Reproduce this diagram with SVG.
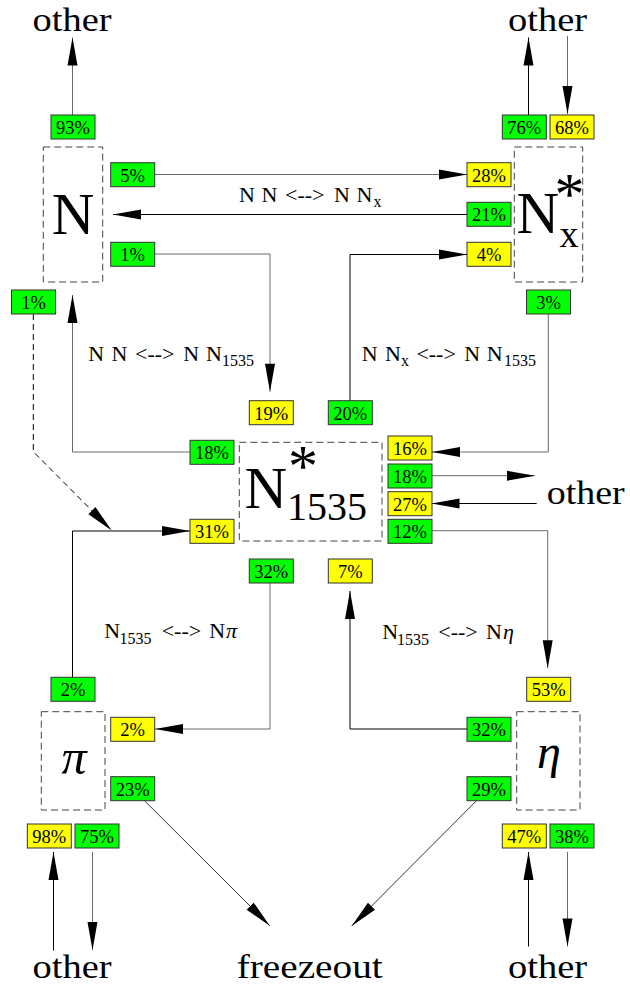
<svg xmlns="http://www.w3.org/2000/svg" width="630" height="988" viewBox="0 0 630 988" font-family="'Liberation Serif','Times New Roman',serif">
<defs>
<style>
text{font-family:"Liberation Serif","Times New Roman",serif;fill:#000}
.g{fill:#00ff00;stroke:#333;stroke-width:1}
.y{fill:#ffff00;stroke:#333;stroke-width:1}
.pt{font-size:18.5px;text-anchor:middle}
.db{fill:none;stroke:#444;stroke-width:1;stroke-dasharray:7,4}
.big{font-size:34px}
.lbl{font-size:22px}
.sub{font-size:16px}
.c{fill:none;stroke:#000;stroke-width:1;marker-end:url(#ah)}
.gr{stroke:#6a6a6a}
.dk{stroke:#333}
.da{stroke-dasharray:6,4}
</style>
<marker id="ah" markerUnits="userSpaceOnUse" markerWidth="28" markerHeight="10" refX="28" refY="5" orient="auto" overflow="visible">
<path d="M0,0 L28,5 L0,10 z" fill="#000" stroke="none"/>
</marker>
</defs>
<rect width="630" height="988" fill="#fff"/>

<g id="connectors">
<path class="c gr" d="M72.5,115 V37.5"/>
<path class="c" d="M528.5,115 V37.5"/>
<path class="c gr" d="M567.5,36 V114"/>
<path class="c" d="M53.5,950.5 V852"/>
<path class="c gr" d="M92.5,852 V950"/>
<path class="c" d="M528.5,946.5 V852"/>
<path class="c gr" d="M567.5,852 V946.5"/>
<path class="c gr" d="M154.7,174.5 H467"/>
<path class="c" d="M467,214.5 H113"/>
<path class="c gr" d="M154.7,254 H270 V391.7"/>
<path class="c" d="M350,400.7 V254.5 H467"/>
<path class="c gr" d="M548.3,314 V452 H432"/>
<path class="c gr" d="M190,452 H72.5 V295"/>
<path class="c da" d="M33.3,314 V451.7 L111.7,530.5"/>
<path class="c" d="M72.5,677.3 V531 H190"/>
<path class="c gr" d="M270,583 V729 H155"/>
<path class="c gr" d="M431.5,475.7 H535"/>
<path class="c" d="M536.7,503.5 H431.5"/>
<path class="c gr" d="M431.5,530.7 H547.7 V668.3"/>
<path class="c" d="M467,729 H350 V591"/>
<path class="c dk" d="M144.3,800.5 L270,926"/>
<path class="c dk" d="M476.7,800.5 L351.7,926"/>
</g>

<g id="labels">
<text class="lbl" y="201.7"><tspan x="239">N</tspan><tspan x="261.5">N</tspan><tspan x="285">&lt;--&gt;</tspan><tspan x="334">N</tspan><tspan x="356.5">N</tspan><tspan class="sub" x="373.5" y="206.5">x</tspan></text>
<text class="lbl" y="360.7"><tspan x="88.3">N</tspan><tspan x="111.5">N</tspan><tspan x="135">&lt;--&gt;</tspan><tspan x="183.3">N</tspan><tspan x="206">N</tspan><tspan class="sub" x="222" y="366">1535</tspan></text>
<text class="lbl" y="360.7"><tspan x="361.7">N</tspan><tspan x="384.9">N</tspan><tspan class="sub" x="401" y="366">x</tspan><tspan x="416.4" y="360.7">&lt;--&gt;</tspan><tspan x="464.3">N</tspan><tspan x="486.7">N</tspan><tspan class="sub" x="504" y="366">1535</tspan></text>
<text class="lbl" y="638.3"><tspan x="104.3">N</tspan><tspan class="sub" x="119.5" y="643.6">1535</tspan><tspan x="161.7" y="638.3">&lt;--&gt;</tspan><tspan x="209.3">N</tspan><tspan x="226" font-style="italic">π</tspan></text>
<text class="lbl" y="639.3"><tspan x="382.3">N</tspan><tspan class="sub" x="397" y="644.6">1535</tspan><tspan x="438.3" y="639.3">&lt;--&gt;</tspan><tspan x="486">N</tspan><tspan x="503" font-style="italic">η</tspan></text>
</g>

<g id="node-N">
<rect class="db" x="43.3" y="147" width="59.4" height="135"/>
<text x="73" y="234" font-size="59" text-anchor="middle">N</text>
<rect class="g" x="51" y="115" width="44" height="24"/><text class="pt" x="73" y="134">93%</text>
<rect class="g" x="110.7" y="162.7" width="44" height="24"/><text class="pt" x="132.7" y="181.7">5%</text>
<rect class="g" x="110.7" y="242.3" width="44" height="24"/><text class="pt" x="132.7" y="261.3">1%</text>
<rect class="g" x="11.5" y="290" width="44" height="24"/><text class="pt" x="33.5" y="309">1%</text>
</g>

<g id="node-Nx">
<rect class="db" x="514.3" y="147" width="68.4" height="135"/>
<text x="516.5" y="233" font-size="59">N<tspan x="559.5" y="246.7" font-size="38">x</tspan><tspan x="569.5" y="213.5" font-size="60" text-anchor="middle">*</tspan></text>
<rect class="g" x="502.3" y="115" width="44" height="24"/><text class="pt" x="524.3" y="134">76%</text>
<rect class="y" x="550" y="115" width="44" height="24"/><text class="pt" x="572" y="134">68%</text>
<rect class="y" x="467" y="162.7" width="44" height="24"/><text class="pt" x="489" y="181.7">28%</text>
<rect class="g" x="467" y="202.3" width="44" height="24"/><text class="pt" x="489" y="221.3">21%</text>
<rect class="y" x="467" y="242.3" width="44" height="24"/><text class="pt" x="489" y="261.3">4%</text>
<rect class="g" x="526.5" y="290" width="44" height="24"/><text class="pt" x="548.5" y="309">3%</text>
</g>

<g id="node-N1535">
<rect class="db" x="239.3" y="442.3" width="142.7" height="98.7"/>
<text x="244.5" y="508.3" font-size="59">N<tspan x="287" y="520" font-size="40">1535</tspan><tspan x="303" y="486.2" font-size="60" text-anchor="middle">*</tspan></text>
<rect class="y" x="249.3" y="400.7" width="44" height="24"/><text class="pt" x="271.3" y="419.7">19%</text>
<rect class="g" x="328.3" y="400.7" width="44" height="24"/><text class="pt" x="350.3" y="419.7">20%</text>
<rect class="g" x="190" y="440.3" width="44" height="24"/><text class="pt" x="212" y="459.3">18%</text>
<rect class="y" x="190" y="519.3" width="44" height="24"/><text class="pt" x="212" y="538.3">31%</text>
<rect class="y" x="388" y="436" width="44" height="24"/><text class="pt" x="410" y="455">16%</text>
<rect class="g" x="388" y="464" width="44" height="24"/><text class="pt" x="410" y="483">18%</text>
<rect class="y" x="388" y="491.7" width="44" height="24"/><text class="pt" x="410" y="510.7">27%</text>
<rect class="g" x="388" y="519.3" width="44" height="24"/><text class="pt" x="410" y="538.3">12%</text>
<rect class="g" x="249.3" y="559" width="44" height="24"/><text class="pt" x="271.3" y="578">32%</text>
<rect class="y" x="328.3" y="559" width="44" height="24"/><text class="pt" x="350.3" y="578">7%</text>
</g>

<g id="node-pi">
<rect class="db" x="41.3" y="711.7" width="63.7" height="98.3"/>
<text x="74" y="774" font-size="50" font-style="italic" text-anchor="middle">π</text>
<rect class="g" x="51" y="677.3" width="44" height="24"/><text class="pt" x="73" y="696.3">2%</text>
<rect class="y" x="110.7" y="717.3" width="44" height="24"/><text class="pt" x="132.7" y="736.3">2%</text>
<rect class="g" x="110.7" y="776.7" width="44" height="24"/><text class="pt" x="132.7" y="795.7">23%</text>
<rect class="y" x="27.3" y="824" width="44" height="24"/><text class="pt" x="49.3" y="843">98%</text>
<rect class="g" x="75" y="824" width="44" height="24"/><text class="pt" x="97" y="843">75%</text>
</g>

<g id="node-eta">
<rect class="db" x="516.7" y="711.7" width="63.3" height="98.3"/>
<text x="549" y="768" font-size="48" font-style="italic" text-anchor="middle">η</text>
<rect class="y" x="526.7" y="677.3" width="44" height="24"/><text class="pt" x="548.7" y="696.3">53%</text>
<rect class="g" x="467" y="717.3" width="44" height="24"/><text class="pt" x="489" y="736.3">32%</text>
<rect class="g" x="467" y="776.7" width="44" height="24"/><text class="pt" x="489" y="795.7">29%</text>
<rect class="y" x="502.3" y="824" width="44" height="24"/><text class="pt" x="524.3" y="843">47%</text>
<rect class="g" x="550" y="824" width="44" height="24"/><text class="pt" x="572" y="843">38%</text>
</g>

<g id="node-other-top-left"><text class="big" x="72" y="30.5" text-anchor="middle" textLength="79" lengthAdjust="spacingAndGlyphs">other</text></g>
<g id="node-other-top-right"><text class="big" x="547.5" y="30.5" text-anchor="middle" textLength="79" lengthAdjust="spacingAndGlyphs">other</text></g>
<g id="node-other-right"><text class="big" x="546.7" y="504" textLength="78" lengthAdjust="spacingAndGlyphs">other</text></g>
<g id="node-other-bottom-left"><text class="big" x="72" y="978" text-anchor="middle" textLength="79" lengthAdjust="spacingAndGlyphs">other</text></g>
<g id="node-other-bottom-right"><text class="big" x="547.5" y="978" text-anchor="middle" textLength="79" lengthAdjust="spacingAndGlyphs">other</text></g>
<g id="node-freezeout"><text class="big" x="309.7" y="978" text-anchor="middle" textLength="146" lengthAdjust="spacingAndGlyphs">freezeout</text></g>
</svg>
